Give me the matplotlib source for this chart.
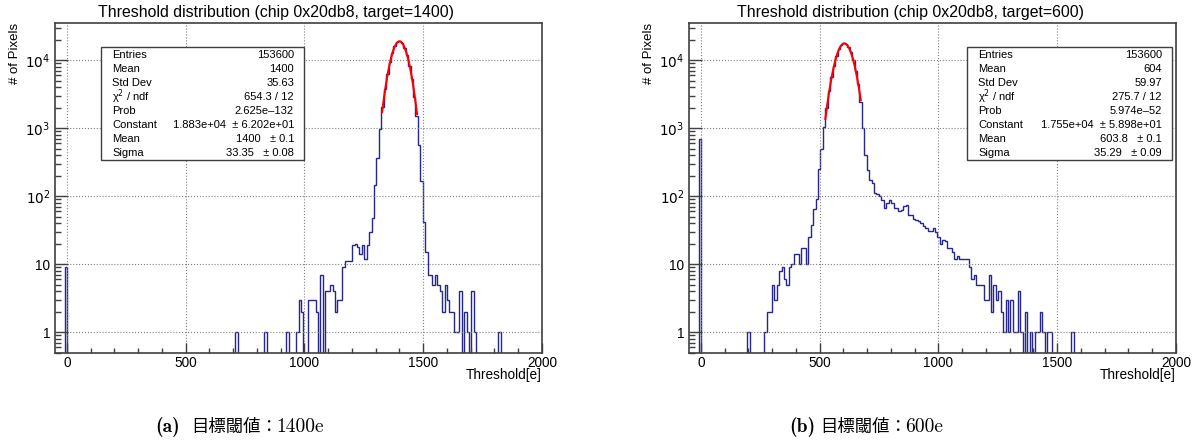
#Threshold distribution: two ROOT-style histograms side by side
import numpy as np
import matplotlib
matplotlib.use("Agg")
import matplotlib.pyplot as plt
from matplotlib.patches import Rectangle
from matplotlib.transforms import blended_transform_factory
from matplotlib.ticker import LogLocator, NullFormatter, FixedLocator, MultipleLocator

plt.rcParams['font.family'] = ['Liberation Sans', 'DejaVu Sans']

#Histogram binning: 200 bins from -50 to 2000
x_lo, x_hi, n_bins = -50, 2000, 200

#target = 1400 : (bin index, counts) of non-empty bins
left_bins = [4, 74, 86, 95, 99, 100, 101, 104, 105, 106, 107, 109, 111, 112, 113, 114, 115,
             116, 117, 118, 119, 120, 121, 122, 123, 124, 125, 126, 127, 128, 129, 130, 131,
             132, 133, 134, 135, 136, 137, 138, 139, 140, 141, 142, 143, 144, 145, 146, 147,
             148, 149, 150, 151, 152, 153, 154, 155, 156, 157, 158, 159, 160, 161, 162, 163,
             164, 165, 166, 168, 169, 171, 172, 182]
left_counts = [9, 1, 1, 1, 1, 3, 2, 3, 3, 3, 2, 7, 4, 4, 5, 4, 2,
               3, 3, 9, 11, 11, 11, 19, 20, 18, 14, 19, 12, 19, 30, 48, 145,
               365, 960, 2050, 3800, 6300, 9300, 12600, 16000, 18300, 18900, 17600, 15000, 11800, 8300, 5300, 2900,
               1500, 560, 165, 42, 15, 7, 7, 5, 7, 5, 4, 2, 5, 3, 2, 2,
               1, 1, 4, 2, 1, 4, 1, 1]

#target = 600
right_bins = [4, 24, 31, 32, 33, 34, 35, 36, 37, 38, 39, 40, 41, 42, 43, 44, 45, 46, 47, 48,
              49, 50, 51, 52, 53, 54, 55, 56, 57, 58, 59, 60, 61, 62, 63, 64, 65, 66, 67, 68,
              69, 70, 71, 72, 73, 74, 75, 76, 77, 78, 79, 80, 81, 82, 83, 84, 85, 86, 87, 88,
              89, 90, 91, 92, 93, 94, 95, 96, 97, 98, 99, 100, 101, 102, 103, 104, 105, 106,
              107, 108, 109, 110, 111, 112, 113, 114, 115, 116, 117, 118, 119, 120, 121, 122,
              123, 124, 125, 126, 127, 128, 129, 130, 131, 132, 133, 134, 135, 136, 138, 140,
              142, 143, 144, 145, 147, 148, 157]
right_counts = [700, 1, 1, 2, 2, 5, 3, 5, 8, 9, 6, 5, 9, 10, 14, 14, 10, 17, 17, 10,
                25, 38, 65, 90, 250, 500, 1030, 2000, 3500, 5600, 8300, 11300, 14300, 16600, 17600, 17200, 15600, 12900, 9900, 7000,
                4500, 2450, 1000, 400, 245, 175, 155, 112, 106, 100, 88, 67, 79, 88, 79, 67, 67, 60, 62, 72,
                75, 53, 52, 46, 44, 43, 40, 36, 34, 31, 31, 34, 30, 25, 20, 23, 22, 17,
                17, 15, 12, 13, 12, 12, 12, 12, 9, 6, 7, 5, 5, 5, 3, 3,
                7, 2, 5, 3, 4, 2, 1, 3, 1, 3, 1, 1, 4, 1, 2, 1,
                1, 1, 2, 1, 1, 1, 1]

#Gaussian fit parameters (Constant, Mean, Sigma) and fit range
left_fit = [1.883e4, 1400.0, 33.35]
left_range = [1327, 1474]
right_fit = [1.755e4, 603.8, 35.29]
right_range = [524, 673]

titles = ["Threshold distribution (chip 0x20db8, target=1400)",
          "Threshold distribution (chip 0x20db8, target=600)"]

stat_names = ["Entries", "Mean", "Std Dev", "\u03c7$^{2}$ / ndf", "Prob", "Constant", "Mean", "Sigma"]
left_stats = ["153600", "1400", "35.63", "654.3 / 12", "2.625e\u2013132",
              "1.883e+04  \u00b1 6.202e+01", "1400   \u00b1 0.1", "33.35   \u00b1 0.08"]
right_stats = ["153600", "604", "59.97", "275.7 / 12", "5.974e\u201352",
               "1.755e+04  \u00b1 5.898e+01", "603.8   \u00b1 0.1", "35.29   \u00b1 0.09"]

cap_tags = ["(a)", "(b)"]
cap_text = "\u76ee\u6a19\u95be\u5024\uff1a"
cap_vals = ["1400e", "600e"]

W, H = 1197, 445
def fx(px):
    return px / W
def fy(py):
    return 1 - py / H

edges = x_lo + (x_hi - x_lo) / n_bins * np.arange(n_bins + 1)

def full_hist(bins, counts):
    h = np.zeros(n_bins)
    h[np.array(bins)] = counts
    return h

def gaus(x, p):
    return p[0] * np.exp(-0.5 * ((x - p[1]) / p[2])**2)

fig = plt.figure(figsize=(W / 100, H / 100), dpi=100)

panels = [
    (55, left_bins, left_counts, left_fit, left_range, left_stats, 101, 304, 15, 155, 191, 276),
    (689, right_bins, right_counts, right_fit, right_range, right_stats, 967, 1172, 649, 789, 820, 905),
]

for i, (ax_l, bins, counts, fit, frange, stats, bx0, bx1, ylab_x, tag_x, cjk_x, val_x) in enumerate(panels):
    ax = fig.add_axes([fx(ax_l), fy(352.7), 487 / W, (352.7 - 23) / H])
    h = full_hist(bins, counts)
    ax.stairs(h, edges, color='#262690', lw=1.0)
    xf = np.linspace(frange[0], frange[1], 300)
    ax.plot(xf, gaus(xf, fit), color='#ff0000', lw=1.5)

    ax.set_yscale('log')
    ax.set_xlim(x_lo, x_hi)
    ax.set_ylim(0.5, 3.5e4)

    ax.xaxis.set_major_locator(FixedLocator([0, 500, 1000, 1500, 2000]))
    ax.xaxis.set_minor_locator(MultipleLocator(100))
    ax.set_xticklabels(["0", "500", "1000", "1500", "2000"])
    ax.yaxis.set_major_locator(FixedLocator([1, 10, 100, 1000, 10000]))
    ax.set_yticklabels(["1", "10", "$10^{2}$", "$10^{3}$", "$10^{4}$"])
    ax.yaxis.set_minor_locator(LogLocator(base=10, subs=np.arange(2, 10)))
    ax.yaxis.set_minor_formatter(NullFormatter())

    ax.tick_params(which='both', direction='in', top=False, right=False, color='#404040')
    ax.tick_params(axis='x', which='major', length=7, width=1, pad=2.5, labelsize=9.8)
    ax.tick_params(axis='x', which='minor', length=3.5, width=1)
    ax.tick_params(axis='y', which='major', length=9, width=1, pad=3.5, labelsize=9.8)
    ax.tick_params(axis='y', which='minor', length=4.5, width=1)
    ax.grid(True, which='major', ls=':', color='#808080', lw=0.8)
    for s in ax.spines.values():
        s.set_color('#404040')
        s.set_linewidth(1.2)

    #title, axis labels
    ax.text(0.454, fy(17.5), titles[i], transform=blended_transform_factory(ax.transAxes, fig.transFigure),
            ha='center', va='baseline', fontsize=11.4)
    fig.text(fx(ylab_x), fy(23), "# of Pixels", rotation=90, ha='center', va='top', fontsize=9.5)
    fig.text(fx(ax_l + 487), fy(375), "Threshold[e]", ha='right', va='center', fontsize=9.8)

    #stats box
    fig.add_artist(Rectangle((fx(bx0), fy(160)), fx(bx1 - bx0), (160 - 47) / H,
                             transform=fig.transFigure, facecolor='white',
                             edgecolor='#404040', lw=1.0, zorder=5))
    for r in range(8):
        yy = fy(55 + 14 * r)
        fig.text(fx(bx0 + 11), yy, stat_names[r], ha='left', va='center', fontsize=8, zorder=6)
        fig.text(fx(bx1 - 10), yy, stats[r], ha='right', va='center', fontsize=8, zorder=6)

    #caption
    fig.text(fx(tag_x), fy(427), cap_tags[i], ha='left', va='center', fontsize=14,
             family='cmb10')
    fig.text(fx(cjk_x), fy(427), cap_text, ha='left', va='center', fontsize=12.5,
             family=['Noto Sans CJK JP', 'DejaVu Sans'])
    fig.text(fx(val_x), fy(427), cap_vals[i], ha='left', va='center', fontsize=14,
             family='cmr10')

plt.savefig("out.png", dpi=100)
